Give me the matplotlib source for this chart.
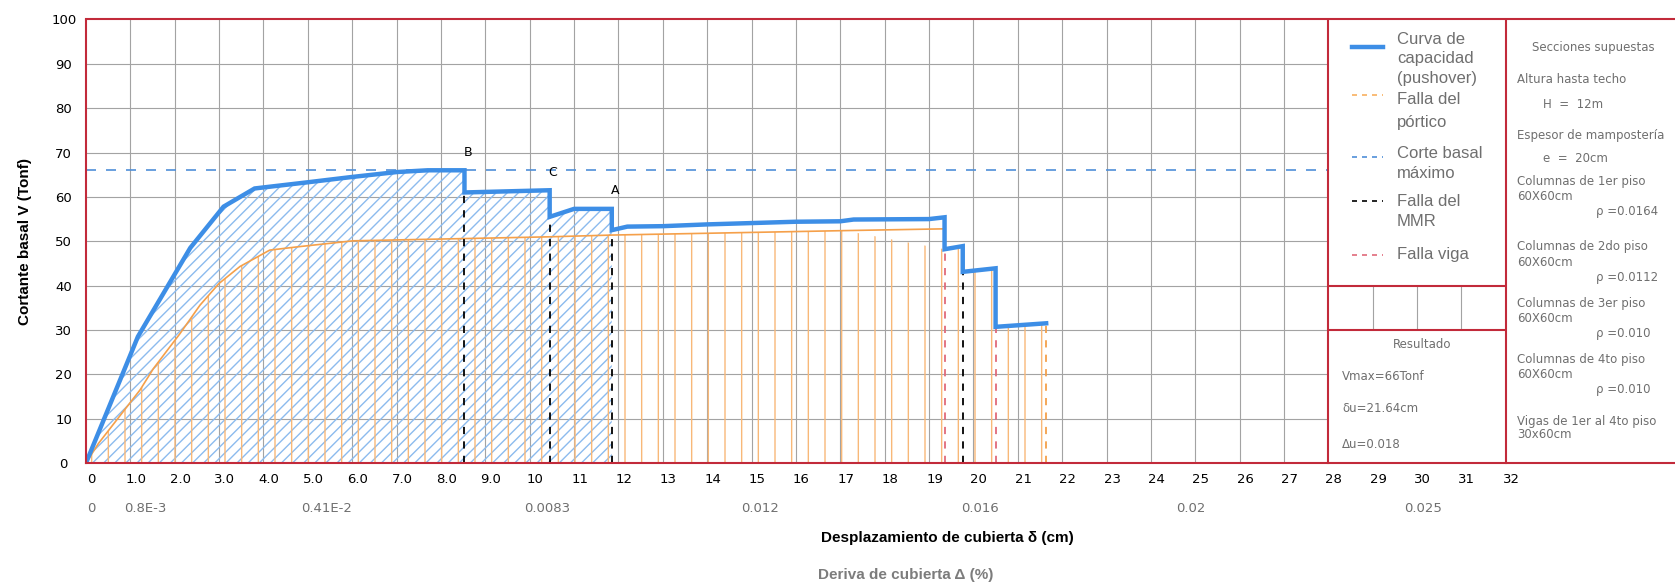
import numpy as np
import matplotlib.pyplot as plt
from matplotlib.lines import Line2D
from matplotlib.transforms import ScaledTranslation

plt.rcParams['hatch.linewidth'] = 1.0
plt.rcParams['font.family'] = 'DejaVu Sans'

# capacity curve (pushover), displacement cm / base shear Tonf
cap_x = np.array([0, 1.17, 2.35, 3.1, 3.8, 5.0, 6.0, 7.0, 7.7, 8.53, 8.53, 10.45, 10.45, 11.0, 11.85,
                  11.85, 12.2, 13.0, 14.0, 15.0, 16.0, 17.0, 17.3, 19.0, 19.35, 19.35, 19.76, 19.76,
                  20.5, 20.5, 21.64])
cap_y = np.array([0, 28.5, 48.5, 57.8, 61.9, 63.3, 64.5, 65.6, 66.0, 66.0, 61.0, 61.5, 55.5, 57.3, 57.3,
                  52.5, 53.3, 53.4, 53.8, 54.1, 54.4, 54.5, 54.9, 55.0, 55.4, 48.2, 48.9, 43.1,
                  43.9, 30.7, 31.5])

# frame failure curve
ort_x = np.array([0, 0.28, 1.22, 1.52, 2.12, 2.57, 3.0, 3.47, 4.14, 4.82, 6.02, 7.5, 9.0, 10.45,
                  11.87, 14.0, 16.08, 17.1, 19.35])
ort_y = np.array([0, 4.4, 16.5, 21.3, 29.2, 35.6, 40.5, 44.3, 48.0, 48.8, 50.1, 50.4, 50.7, 51.0,
                  51.4, 51.8, 52.2, 52.4, 52.8])

v_max = 66.0

# failure markers
mmr_x = [8.53, 10.45, 11.85, 19.76]
mmr_top = [61.0, 55.5, 52.5, 43.1]
mmr_names = ['B', 'C', 'A']
mmr_peak = [66.0, 61.5, 57.3]
viga_x = [19.35, 20.5]
viga_top = [48.2, 30.7]
portico_x = [21.64]
portico_top = [31.5]

x_ticks = list(range(33))
x_labels = ['0'] + ['%.1f' % v for v in range(1, 10)] + [str(v) for v in range(10, 33)]
y_ticks = list(range(0, 101, 10))

drift_pos = [0.13, 1.33, 5.43, 10.39, 15.2, 20.15, 24.9, 30.13]
drift_labels = ['0', '0.8E-3', '0.41E-2', '0.0083', '0.012', '0.016', '0.02', '0.025']

blue = '#3d8ee6'
orange = '#f5a04a'
red = '#c22a3a'
grid_c = '#a3a3a3'
gray = '#6f6f6f'

W, H = 1675, 583
fig = plt.figure(figsize=(W / 100, H / 100), dpi=100)
ax = fig.add_axes([86 / W, 120 / H, 1589 / W, 443.5 / H])
ax.set_xlim(0, 1589 / 44.37)
ax.set_ylim(0, 100)
for s in ax.spines.values():
    s.set_visible(False)


def fp(x, y):
    return x / W, 1 - y / H


# grid
ax.vlines(range(1, 28), 0, 100, color=grid_c, lw=0.8, zorder=1)
ax.vlines([29, 30, 31], 30, 40, color=grid_c, lw=0.8, zorder=1)
ax.hlines(range(10, 100, 10), 0, 28, color=grid_c, lw=0.8, zorder=1)

# fills
mask = cap_x <= mmr_x[2]
ax.fill_between(cap_x[mask], cap_y[mask], 0, facecolor='none', edgecolor='#8cbbee',
                hatch='///', linewidth=0, zorder=2)
fx = np.concatenate([ort_x, cap_x[cap_x > ort_x[-1]]])
fy = np.concatenate([ort_y[:-1], [cap_y[25]], cap_y[cap_x > ort_x[-1]]])
ax.fill_between(fx, fy, 0, facecolor='none', edgecolor='#f8b878',
                hatch='|', linewidth=0, zorder=2)

ax.plot(ort_x, ort_y, color=orange, lw=1.2, zorder=3)
ax.hlines(v_max, 0, 28, color='#4f8fd8', lw=1.2, linestyles=(0, (6, 6)), zorder=3)
ax.vlines(mmr_x, 0, mmr_top, color='black', lw=1.3, linestyles=(0, (4, 4)), zorder=4)
ax.vlines(viga_x, 0, viga_top, color='#e06a7a', lw=1.3, linestyles=(0, (4, 4)), zorder=4)
ax.vlines(portico_x, 0, portico_top, color=orange, lw=1.3, linestyles=(0, (4, 4)), zorder=4)
ax.plot(cap_x, cap_y, color=blue, lw=3.2, zorder=5, solid_joinstyle='miter')

for xx, pk, nm in zip(mmr_x, mmr_peak, mmr_names):
    ax.text(xx + 0.07, pk + 2.6, nm, ha='center', va='bottom', fontsize=9, zorder=6)

# frame lines
kw = dict(color=red, lw=1.5, clip_on=False, zorder=7)
ax.axvline(0, **kw)
ax.axhline(0, **kw)
ax.axhline(100, **kw)
ax.axvline(28, **kw)
ax.axvline(32, **kw)
ax.hlines([30, 40], 28, 32, **kw)

# ticks
ax.set_xticks(x_ticks, x_labels, fontsize=9.5)
ax.set_yticks(y_ticks, [str(v) for v in y_ticks], fontsize=9.5)
ax.tick_params(length=0)
ax.tick_params(axis='x', pad=7.5)
ax.tick_params(axis='y', pad=16)
off = ScaledTranslation(0.055, 0, fig.dpi_scale_trans)
for lb in ax.get_xticklabels():
    lb.set_transform(lb.get_transform() + off)
for lb in ax.get_yticklabels():
    lb.set_horizontalalignment('center')

for p, t in zip(drift_pos, drift_labels):
    ax.text(p, -0.1015, t, transform=ax.get_xaxis_transform(), ha='center', va='center',
            fontsize=9.5, color=gray)

ax.set_ylabel('Cortante basal V (Tonf)', fontsize=11, fontweight='bold', va='center',
              family='Liberation Sans')
ax.yaxis.set_label_coords(-61 / 1589, 0.5)
fig.text(*fp(947, 538), 'Desplazamiento de cubierta δ (cm)', ha='center', va='center',
         fontsize=11, fontweight='bold', family='Liberation Sans')
fig.text(*fp(818, 575), 'Deriva de cubierta Δ (%)', ha='left', va='center',
         fontsize=11, fontweight='bold', color='#7c7c7c', family='Liberation Sans')

# legend
leg_samples = [(47, blue, '-', 3.2), (95, '#f8b060', (0, (3, 3)), 1.2), (157, '#4f8fd8', (0, (3, 3)), 1.2),
               (201, 'black', (0, (3, 3)), 1.2), (255, '#e06a7a', (0, (3, 3)), 1.2)]
for y, c, ls, lw in leg_samples:
    fig.add_artist(Line2D([1352 / W, 1383 / W], [1 - y / H, 1 - y / H], color=c, ls=ls, lw=lw,
                          transform=fig.transFigure))
leg_lines = [(40, 'Curva de'), (59, 'capacidad'), (78, '(pushover)'), (100, 'Falla del'),
             (123, 'pórtico'), (153, 'Corte basal'), (173, 'máximo'), (201, 'Falla del'),
             (221, 'MMR'), (255, 'Falla viga')]
for y, t in leg_lines:
    fig.text(*fp(1397, y), t, ha='left', va='center', fontsize=12, color=gray,
             family='Liberation Sans')

# result box
res_lines = [(1422, 345, 'Resultado', 'center'), (1342, 376, 'Vmax=66Tonf', 'left'),
             (1342, 409, 'δu=21.64cm', 'left'), (1342, 444, 'Δu=0.018', 'left')]
for x, y, t, ha in res_lines:
    fig.text(*fp(x, y), t, ha=ha, va='center', fontsize=8.5, color=gray)

# sections panel
sec_lines = [(1593, 47, 'Secciones supuestas', 'center'), (1517, 80, 'Altura hasta techo', 'left'),
             (1543, 104, 'H  =  12m', 'left'), (1517, 135, 'Espesor de mampostería', 'left'),
             (1543, 158, 'e  =  20cm', 'left'), (1517, 182, 'Columnas de 1er piso', 'left'),
             (1517, 196, '60X60cm', 'left'), (1596, 212, 'ρ =0.0164', 'left'),
             (1517, 247, 'Columnas de 2do piso', 'left'), (1517, 262, '60X60cm', 'left'),
             (1596, 277, 'ρ =0.0112', 'left'), (1517, 304, 'Columnas de 3er piso', 'left'),
             (1517, 318, '60X60cm', 'left'), (1596, 334, 'ρ =0.010', 'left'),
             (1517, 360, 'Columnas de 4to piso', 'left'), (1517, 374, '60X60cm', 'left'),
             (1596, 390, 'ρ =0.010', 'left'), (1517, 421, 'Vigas de 1er al 4to piso', 'left'),
             (1517, 435, '30x60cm', 'left')]
for x, y, t, ha in sec_lines:
    fig.text(*fp(x, y), t, ha=ha, va='center', fontsize=8.5, color=gray)

fig.savefig('out.png', dpi=100)
